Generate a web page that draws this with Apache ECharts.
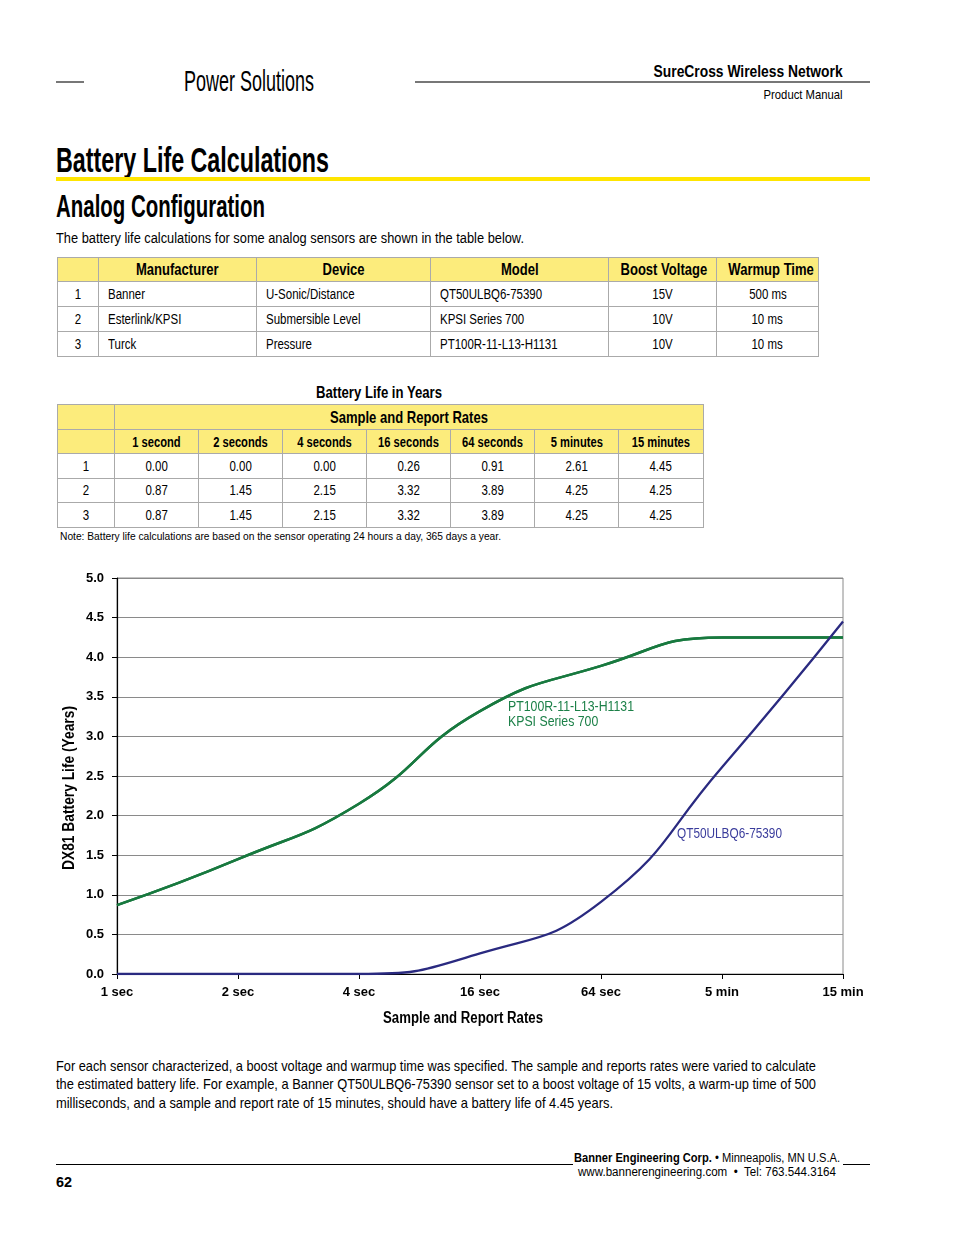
<!DOCTYPE html>
<html><head><meta charset="utf-8">
<script src="https://cdn.jsdelivr.net/npm/echarts@6/dist/echarts.min.js"></script>
<style>
html,body{margin:0;padding:0}
body{width:954px;height:1235px;position:relative;background:#fff;font-family:'Liberation Sans',Arial,sans-serif;color:#000;overflow:hidden}
.a{position:absolute;white-space:nowrap;line-height:1}
.hl{position:absolute;background:#777}
table{position:absolute;border-collapse:collapse;table-layout:fixed;font-size:14px}
td,th{border:1px solid #aaa;padding:0;overflow:visible;white-space:nowrap}
th{background:#fcec7c;font-weight:bold;font-size:16.5px;text-align:center}
.c{text-align:center}
.l{text-align:left;padding-left:9px}
.n,.b,.b2{display:inline-block}
.c .n,.c .b,th .b,th .b2{transform-origin:50% 50%}
.l .n{transform-origin:0 50%}
.n{transform:scaleX(0.82)}
.b{transform:scaleX(0.79)}
.b2{transform:scaleX(0.77)}
</style></head>
<body>
<div class="hl" style="left:56px;top:81px;width:28px;height:1.5px"></div>
<div class="a fit" data-w="130" style="left:184px;top:65.6px;font-size:30px">Power Solutions</div>
<div class="hl" style="left:415px;top:81px;width:455px;height:1.5px"></div>
<div class="a fit" data-w="189" data-o="r" style="right:111px;top:63.5px;font-size:16px;font-weight:bold">SureCross Wireless Network</div>
<div class="a fit" data-w="79" data-o="r" style="right:111px;top:87.6px;font-size:13.5px">Product Manual</div>

<div class="a fit" data-w="273" style="left:56px;top:142.4px;font-size:35px;font-weight:bold">Battery Life Calculations</div>
<div style="position:absolute;left:56px;top:177px;width:814px;height:4px;background:#ffe500"></div>
<div class="a fit" data-w="209" style="left:56px;top:191.2px;font-size:30.5px;font-weight:bold">Analog Configuration</div>
<div class="a fit" data-w="468" style="left:56px;top:231px;font-size:14px">The battery life calculations for some analog sensors are shown in the table below.</div>

<table id="t1" style="left:57px;top:257px;width:761px"></table>

<div class="a fit" data-w="126" style="left:316px;top:384.5px;font-size:16px;font-weight:bold">Battery Life in Years</div>
<table id="t2" style="left:57px;top:404px;width:647px"></table>
<div class="a fit" data-w="441" style="left:60px;top:531.3px;font-size:11.5px">Note: Battery life calculations are based on the sensor operating 24 hours a day, 365 days a year.</div>

<div id="chart" style="position:absolute;left:0;top:560px;width:954px;height:480px"></div>

<div class="a fit" data-w="760" style="left:56px;top:1058.7px;font-size:14.5px">For each sensor characterized, a boost voltage and warmup time was specified. The sample and reports rates were varied to calculate</div>
<div class="a fit" data-w="760" style="left:56px;top:1077.2px;font-size:14.5px">the estimated battery life. For example, a Banner QT50ULBQ6-75390 sensor set to a boost voltage of 15 volts, a warm-up time of 500</div>
<div class="a fit" data-w="557" style="left:56px;top:1095.7px;font-size:14.5px">milliseconds, and a sample and report rate of 15 minutes, should have a battery life of 4.45 years.</div>

<div style="position:absolute;left:56px;top:1164px;width:517px;height:1px;background:#000"></div>
<div style="position:absolute;left:843px;top:1164px;width:27px;height:1px;background:#000"></div>
<div class="a fit" data-w="266" style="left:574px;top:1152.4px;font-size:12.5px"><b>Banner Engineering Corp.</b> &bull; Minneapolis, MN U.S.A.</div>
<div class="a fit" data-w="258" style="left:578px;top:1166.4px;font-size:12.5px">www.bannerengineering.com &nbsp;&bull;&nbsp; Tel: 763.544.3164</div>
<div class="a fit" data-w="16" style="left:56px;top:1175px;font-size:14px;font-weight:bold">62</div>

<script>
// ---- data ----
const devHeaders = ['Manufacturer','Device','Model','Boost Voltage','Warmup Time'];
const manufacturers = ['Banner','Esterlink/KPSI','Turck'];
const devices = ['U-Sonic/Distance','Submersible Level','Pressure'];
const models = ['QT50ULBQ6-75390','KPSI Series 700','PT100R-11-L13-H1131'];
const boostVoltages = ['15V','10V','10V'];
const warmupTimes = ['500 ms','10 ms','10 ms'];

const rateHeaders = ['1 second','2 seconds','4 seconds','16 seconds','64 seconds','5 minutes','15 minutes'];
const categories = ['1 sec','2 sec','4 sec','16 sec','64 sec','5 min','15 min'];
const life1 = [0.00,0.00,0.00,0.26,0.91,2.61,4.45];   // QT50ULBQ6-75390
const life2 = [0.87,1.45,2.15,3.32,3.89,4.25,4.25];   // KPSI Series 700
const life3 = [0.87,1.45,2.15,3.32,3.89,4.25,4.25];   // PT100R-11-L13-H1131
const xAxisTitle = 'Sample and Report Rates';
const yAxisTitle = 'DX81 Battery Life (Years)';
const label1 = 'QT50ULBQ6-75390';
const label23 = ['PT100R-11-L13-H1131','KPSI Series 700'];

// ---- tables ----
(function(){
  const n = s => '<span class="n">'+s+'</span>';
  const b = s => '<span class="b">'+s+'</span>';
  const b2 = s => '<span class="b2">'+s+'</span>';
  const w1 = [41,158,174,178,108,102];
  let h = '<colgroup>' + w1.map(w=>'<col style="width:'+w+'px">').join('') + '</colgroup>';
  h += '<tr style="height:24px"><th></th>' + devHeaders.map(x=>'<th>'+b(x)+'</th>').join('') + '</tr>';
  for (let i=0;i<3;i++){
    h += '<tr style="height:25px"><td class="c">'+n(i+1)+'</td><td class="l">'+n(manufacturers[i])+'</td><td class="l">'+n(devices[i])+'</td><td class="l">'+n(models[i])+'</td><td class="c">'+n(boostVoltages[i])+'</td><td class="c">'+n(warmupTimes[i])+'</td></tr>';
  }
  document.getElementById('t1').innerHTML = h;
  const w2 = [57,84,84,84,84,84,84,85];
  let g = '<colgroup>' + w2.map(w=>'<col style="width:'+w+'px">').join('') + '</colgroup>';
  g += '<tr style="height:25px"><th></th><th colspan="7">'+b('Sample and Report Rates')+'</th></tr>';
  g += '<tr style="height:24px"><th></th>' + rateHeaders.map(x=>'<th style="font-size:14.5px">'+b2(x)+'</th>').join('') + '</tr>';
  [life1,life2,life3].forEach((arr,i)=>{
    g += '<tr style="height:24.5px"><td class="c">'+n(i+1)+'</td>' + arr.map(v=>'<td class="c">'+n(v.toFixed(2))+'</td>').join('') + '</tr>';
  });
  document.getElementById('t2').innerHTML = g;
})();

// ---- condensed fitting for page text ----
document.querySelectorAll('.fit').forEach(el=>{
  const w = el.getBoundingClientRect().width;
  const s = parseFloat(el.dataset.w)/w;
  el.style.transformOrigin = el.dataset.o==='r' ? '100% 0' : '0 0';
  el.style.transform = 'scaleX('+s.toFixed(4)+')';
});

// ---- chart ----
const FONT = "'Liberation Sans',Arial,sans-serif";
const mctx = document.createElement('canvas').getContext('2d');
function fitScale(text, font, target){ mctx.font = font; return target / mctx.measureText(text).width; }
const chart = echarts.init(document.getElementById('chart'), null, {renderer:'canvas'});
const green = '#18793f', blue = '#2a2a80';
const nameFont = 'bold 16px ' + FONT;
const lblFont = '14px ' + FONT;
const sG = fitScale(label23[0], lblFont, 126);
const sB = fitScale(label1, lblFont, 105);
chart.setOption({
  animation:false,
  grid:{left:117,right:111,top:18,bottom:66,show:true,borderColor:'#8a8a8a',borderWidth:1},
  xAxis:{
    type:'category', data:categories, boundaryGap:false,
    axisLine:{lineStyle:{color:'#000',width:1.2}},
    axisTick:{show:true,length:5,lineStyle:{color:'#000'}},
    axisLabel:{color:'#000',fontFamily:FONT,fontWeight:'bold',fontSize:13,margin:12},
    splitLine:{show:false}
  },
  yAxis:{
    type:'value', min:0, max:5, interval:0.5,
    axisLine:{show:true,lineStyle:{color:'#000',width:1.2}},
    axisTick:{show:true,length:5,lineStyle:{color:'#000'}},
    axisLabel:{color:'#000',fontFamily:FONT,fontWeight:'bold',fontSize:13,margin:13,formatter:v=>v.toFixed(1)},
    splitLine:{show:true,lineStyle:{color:'#8a8a8a',width:1}}
  },
  series:[
    {type:'line',name:label1,data:life1,smooth:0.5,symbol:'none',z:5,lineStyle:{color:blue,width:2.3}},
    {type:'line',name:label23[1],data:life2,smooth:0.5,symbol:'none',z:4,lineStyle:{color:green,width:2.5}},
    {type:'line',name:label23[0],data:life3,smooth:0.5,symbol:'none',z:4,lineStyle:{color:green,width:2.5}}
  ],
  graphic:[
    {type:'text',x:463,y:459,scaleX:fitScale(xAxisTitle,nameFont,160),style:{text:xAxisTitle,font:nameFont,fill:'#000',align:'center',verticalAlign:'middle'}},
    {type:'text',x:70,y:228,rotation:Math.PI/2,scaleX:fitScale(yAxisTitle,nameFont,164),style:{text:yAxisTitle,font:nameFont,fill:'#000',align:'center',verticalAlign:'middle'}},
    {type:'text',x:508,y:147,scaleX:sG,style:{text:label23[0],font:lblFont,fill:'#1c8048',align:'left',verticalAlign:'middle'}},
    {type:'text',x:508,y:162,scaleX:sG,style:{text:label23[1],font:lblFont,fill:'#1c8048',align:'left',verticalAlign:'middle'}},
    {type:'text',x:677,y:274,scaleX:sB,style:{text:label1,font:lblFont,fill:'#3a3c9c',align:'left',verticalAlign:'middle'}}
  ]
});
</script>
</body></html>
